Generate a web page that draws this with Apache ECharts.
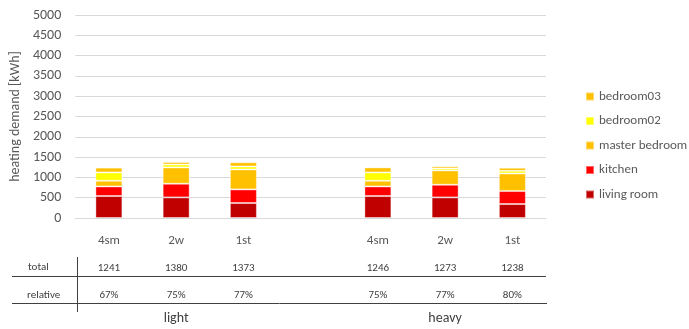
<!DOCTYPE html>
<html>
<head>
<meta charset="utf-8">
<script src="https://cdn.jsdelivr.net/npm/echarts@6/dist/echarts.min.js"></script>
<style>
html,body{margin:0;padding:0;background:#fff;}
#c{width:689px;height:329px;}
</style>
</head>
<body>
<div id="c"></div>
<script>
const categories = ['4sm', '2w', '1st', '', '4sm', '2w', '1st'];
const livingRoom = [541, 507, 369, null, 541, 507, 344];
const kitchen = [236, 337, 335, null, 236, 312, 320];
const masterBedroom = [140, 401, 491, null, 140, 352, 433];
const bedroom02 = [205, 74, 74, null, 205, 49, 66];
const bedroom03 = [119, 61, 104, null, 124, 53, 75];
const totals = ['1241', '1380', '1373', '', '1246', '1273', '1238'];
const relative = ['67%', '75%', '77%', '', '75%', '77%', '80%'];
const groups = ['', 'light', '', '', '', 'heavy', ''];
const yTicks = { min: 0, max: 5000, interval: 500 };

const FONT = 'Carlito, Lato, sans-serif';
const TXT = '#595959';
const TBL = '#404040';
const chart = echarts.init(document.getElementById('c'));

function bar(name, data, color) {
  return {
    name, type: 'bar', stack: 'a', data, barWidth: 27,
    itemStyle: { color, borderColor: 'rgba(255,255,255,0.4)', borderWidth: 1 },
    emphasis: { disabled: true }
  };
}
function extraAxis(data, offset, fontSize, color) {
  return {
    type: 'category', data, position: 'bottom', offset,
    axisLine: { show: false }, axisTick: { show: false }, splitLine: { show: false },
    axisLabel: { color, fontFamily: FONT, fontSize, margin: 0, interval: 0 }
  };
}

chart.setOption({
  animation: false,
  textStyle: { fontFamily: FONT },
  grid: { left: 75, right: 143, top: 15, bottom: 111, containLabel: false },
  legend: {
    orient: 'vertical', left: 580, top: 85,
    itemWidth: 8, itemHeight: 8, itemGap: 11.5,
    icon: 'rect',
    data: ['bedroom03', 'bedroom02', 'master bedroom', 'kitchen', 'living room'],
    textStyle: { color: TXT, fontFamily: FONT, fontSize: 13 }
  },
  xAxis: [
    {
      type: 'category', data: categories,
      axisLine: { lineStyle: { color: '#d9d9d9' } }, axisTick: { show: false },
      axisLabel: { color: TXT, fontFamily: FONT, fontSize: 13, margin: 16, interval: 0 }
    },
    extraAxis(totals, 45, 11, TBL),
    extraAxis(relative, 72, 11, TBL),
    extraAxis(groups, 93, 14, TBL)
  ],
  yAxis: {
    type: 'value', min: yTicks.min, max: yTicks.max, interval: yTicks.interval,
    name: 'heating demand [kWh]', nameLocation: 'middle', nameGap: 52,
    nameTextStyle: { color: TXT, fontFamily: FONT, fontSize: 14 },
    axisLine: { show: false }, axisTick: { show: false },
    splitLine: { lineStyle: { color: '#d9d9d9' } },
    axisLabel: { color: TXT, fontFamily: FONT, fontSize: 14, margin: 14, formatter: v => String(v) }
  },
  series: [
    bar('living room', livingRoom, '#C00000'),
    bar('kitchen', kitchen, '#FF0000'),
    bar('master bedroom', masterBedroom, '#FFC000'),
    bar('bedroom02', bedroom02, '#FFFF00'),
    bar('bedroom03', bedroom03, '#FFC000')
  ],
  graphic: [
    { type: 'text', left: 28, top: 262, style: { text: 'total', fill: TBL, font: '11px ' + FONT } },
    { type: 'text', left: 27, top: 290, style: { text: 'relative', fill: TBL, font: '11px ' + FONT } },
    { type: 'line', shape: { x1: 12, y1: 276.5, x2: 546, y2: 276.5 }, style: { stroke: '#404040', lineWidth: 1 } },
    { type: 'line', shape: { x1: 12, y1: 303.5, x2: 547, y2: 303.5 }, style: { stroke: '#404040', lineWidth: 1 } },
    { type: 'line', shape: { x1: 77.5, y1: 257, x2: 77.5, y2: 312 }, style: { stroke: '#404040', lineWidth: 1 } }
  ]
});
</script>
</body>
</html>
